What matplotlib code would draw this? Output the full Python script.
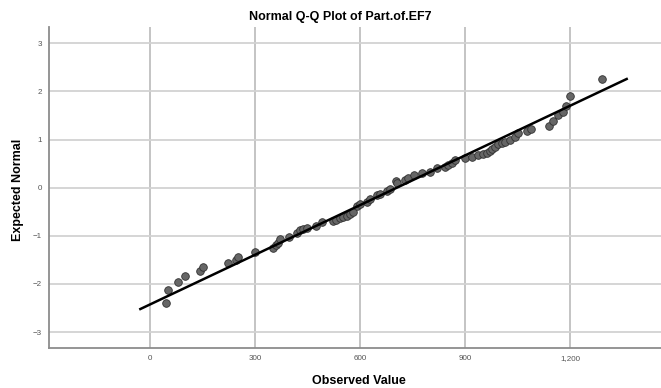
import matplotlib.pyplot as plt
from matplotlib.ticker import StrMethodFormatter

observed = [46, 51, 80, 100, 143, 151, 224, 245, 251, 299,
            351, 359, 365, 373, 398, 419, 429, 438, 448, 476,
            491, 524, 533, 543, 552, 562, 571, 581, 591, 600,
            619, 629, 649, 657, 676, 686, 703, 707, 729, 738,
            754, 776, 800, 819, 843, 852, 862, 871, 900, 919,
            938, 952, 962, 971, 976, 986, 995, 1005, 1014, 1029,
            1043, 1052, 1076, 1088, 1141, 1151, 1167, 1181, 1189, 1200,
            1291]
expected = [-2.39, -2.12, -1.96, -1.83, -1.73, -1.64, -1.57, -1.51, -1.43, -1.33,
            -1.26, -1.20, -1.15, -1.07, -1.03, -0.95, -0.88, -0.85, -0.83, -0.79,
            -0.72, -0.70, -0.66, -0.63, -0.61, -0.58, -0.55, -0.50, -0.38, -0.34,
            -0.29, -0.24, -0.16, -0.12, -0.07, -0.02, 0.14, 0.09, 0.16, 0.20,
            0.26, 0.30, 0.33, 0.40, 0.44, 0.47, 0.51, 0.57, 0.61, 0.64,
            0.67, 0.70, 0.73, 0.76, 0.80, 0.85, 0.90, 0.92, 0.95, 1.00,
            1.06, 1.13, 1.18, 1.23, 1.29, 1.39, 1.51, 1.58, 1.70, 1.91,
            2.25]

# reference line end points
line_x = [-27, 1362]
line_y = [-2.52, 2.26]

x_ticks = [0, 300, 600, 900, 1200]
y_ticks = [-3, -2, -1, 0, 1, 2, 3]

plt.rcParams['font.family'] = ['Liberation Sans', 'DejaVu Sans']

fig = plt.figure(figsize=(6.61, 3.88), dpi=100)
ax = fig.add_axes([0.0741, 0.1031, 0.9259, 0.8273])

ax.scatter(observed, expected, s=30, color='#666666', edgecolor='#303030',
           linewidth=0.6, zorder=3)
ax.plot(line_x, line_y, color='black', linewidth=1.8, zorder=4)

ax.set_xlim(-288, 1460)
ax.set_ylim(-3.33, 3.34)
ax.set_xticks(x_ticks)
ax.set_yticks(y_ticks)
ax.xaxis.set_major_formatter(StrMethodFormatter('{x:,.0f}'))
ax.tick_params(length=0, labelsize=5.8, labelcolor='#555555', pad=5)

# background grid, vertical lines a bit darker than horizontal ones
ax.xaxis.grid(True, color='#b4b4b4', linewidth=1.1)
ax.yaxis.grid(True, color='#d2d2d2', linewidth=1.3)
ax.set_axisbelow(True)

for side in ['top', 'right']:
    ax.spines[side].set_visible(False)
for side in ['left', 'bottom']:
    ax.spines[side].set_color('#8c8c8c')
    ax.spines[side].set_linewidth(1.3)

fig.text(340 / 661, 1 - 17 / 388, 'Normal Q-Q Plot of Part.of.EF7',
         ha='center', va='center', fontsize=9, fontweight='bold')
fig.text(359 / 661, 1 - 381 / 388, 'Observed Value',
         ha='center', va='center', fontsize=9, fontweight='bold')
fig.text(18 / 661, 1 - 190 / 388, 'Expected Normal', rotation=90,
         ha='center', va='center', fontsize=9, fontweight='bold')

fig.savefig('out.png', dpi=100)
